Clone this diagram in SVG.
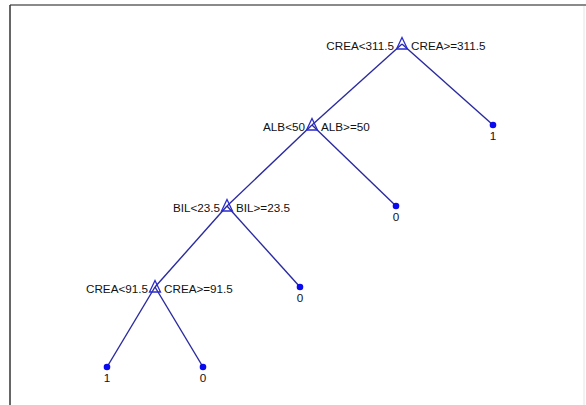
<svg xmlns="http://www.w3.org/2000/svg" width="586" height="405" viewBox="0 0 586 405">
  <style>
    .edge { stroke: #2a2aa0; stroke-width: 1.4; fill: none; }
    .split { stroke: #2a2ad0; stroke-width: 1.3; fill: none; }
    .leaf { fill: #0a0aee; }
    text { font-family: "Liberation Sans", Arial, sans-serif; font-size: 11.7px; fill: #111; }
    .l { text-anchor: end; }
    .m { text-anchor: middle; }
  </style>
  <defs>
    <path id="tri" class="split" d="M0,-6.5 L5.5,5 L-5.5,5 Z"/>
  </defs>
  <rect width="586" height="405" fill="#ffffff"/>
  <!-- plot frame -->
  <line x1="10" y1="5" x2="586" y2="5" stroke="#8a8a8a" stroke-width="2"/>
  <line x1="10" y1="5" x2="10" y2="405" stroke="#333" stroke-width="1.5"/>
  <line x1="584" y1="6" x2="584" y2="405" stroke="#e4e4e4" stroke-width="1"/>

  <g id="edges">
    <line class="edge" x1="402" y1="44" x2="312" y2="125"/>
    <line class="edge" x1="402" y1="44" x2="493" y2="125"/>
    <line class="edge" x1="312" y1="125" x2="227" y2="206"/>
    <line class="edge" x1="312" y1="125" x2="396" y2="206"/>
    <line class="edge" x1="227" y1="206" x2="155" y2="287"/>
    <line class="edge" x1="227" y1="206" x2="300" y2="287"/>
    <line class="edge" x1="155" y1="287" x2="107" y2="367"/>
    <line class="edge" x1="155" y1="287" x2="203" y2="367"/>
  </g>

  <g id="n1">
    <use href="#tri" x="402" y="44"/>
    <text class="l" x="394" y="49.5">CREA&lt;311.5</text>
    <text x="411" y="49.5">CREA&gt;=311.5</text>
  </g>
  <g id="n2">
    <circle class="leaf" cx="493" cy="125" r="3.3"/>
    <text class="m" x="493" y="139.5">1</text>
  </g>
  <g id="n3">
    <use href="#tri" x="312" y="125"/>
    <text class="l" x="305" y="130.5">ALB&lt;50</text>
    <text x="321" y="130.5">ALB&gt;=50</text>
  </g>
  <g id="n4">
    <circle class="leaf" cx="396" cy="206" r="3.3"/>
    <text class="m" x="396" y="220.5">0</text>
  </g>
  <g id="n5">
    <use href="#tri" x="227" y="206"/>
    <text class="l" x="220" y="211.5">BIL&lt;23.5</text>
    <text x="236" y="211.5">BIL&gt;=23.5</text>
  </g>
  <g id="n6">
    <circle class="leaf" cx="300" cy="287" r="3.3"/>
    <text class="m" x="300" y="301.5">0</text>
  </g>
  <g id="n7">
    <use href="#tri" x="155" y="287"/>
    <text class="l" x="148" y="292.5">CREA&lt;91.5</text>
    <text x="164" y="292.5">CREA&gt;=91.5</text>
  </g>
  <g id="n8">
    <circle class="leaf" cx="107" cy="367" r="3.3"/>
    <text class="m" x="107" y="381.5">1</text>
  </g>
  <g id="n9">
    <circle class="leaf" cx="203" cy="367" r="3.3"/>
    <text class="m" x="203" y="381.5">0</text>
  </g>
</svg>
